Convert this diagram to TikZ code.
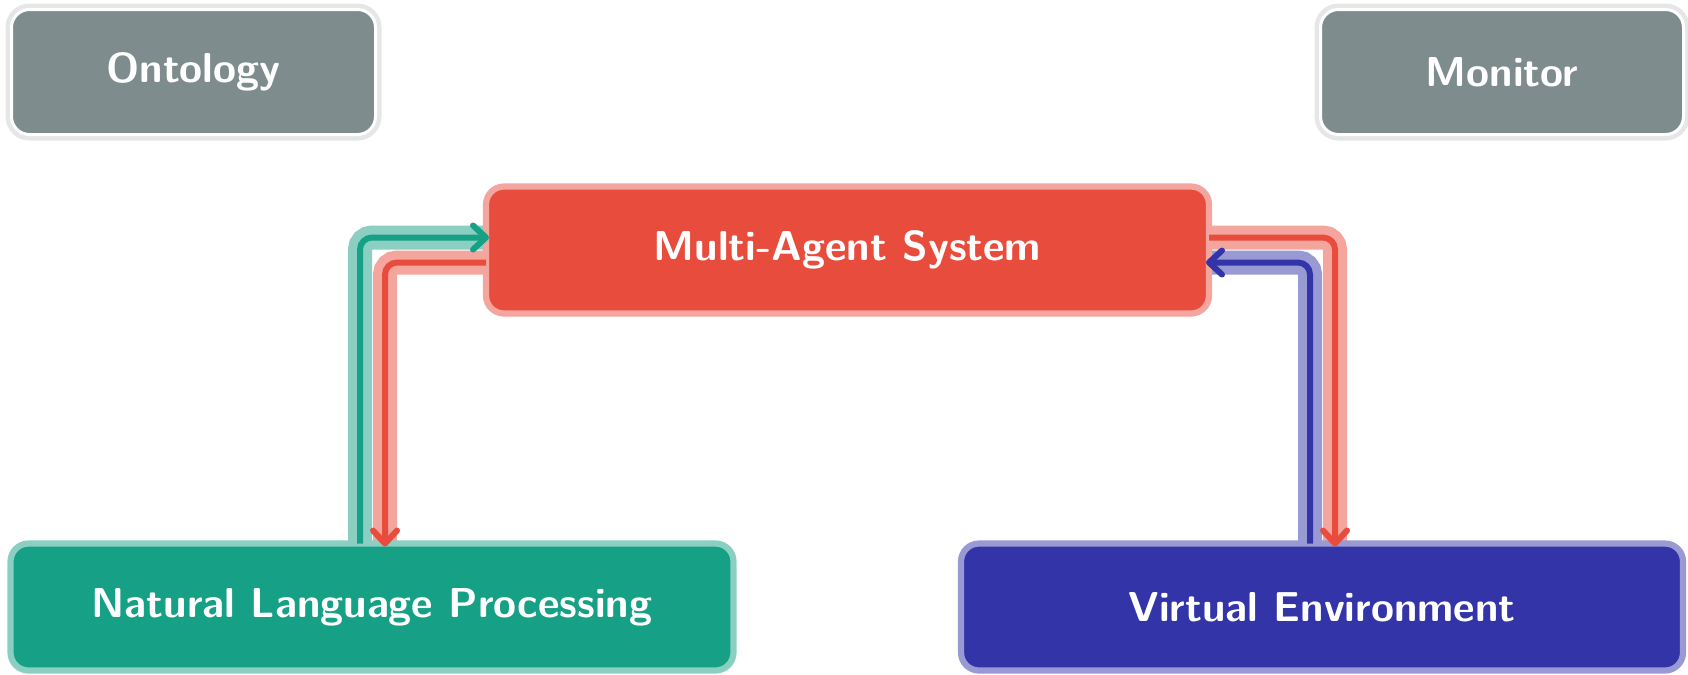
\documentclass[tikz,border=0pt]{standalone}
\usetikzlibrary{arrows.meta,calc}
\definecolor{redfill}{HTML}{E74C3C}
\definecolor{redsoft}{HTML}{F3A59E}
\definecolor{greenfill}{HTML}{16A085}
\definecolor{greensoft}{HTML}{8BCFC2}
\definecolor{bluefill}{HTML}{3434A9}
\definecolor{bluesoft}{HTML}{9999D4}
\definecolor{grayfill}{HTML}{7F8C8D}
\definecolor{grayring}{HTML}{E5E7E7}
\pgfdeclarelayer{bg}
\pgfsetlayers{bg,main}
\tikzset{
  label font/.style={font=\sffamily\bfseries\fontsize{11.9}{14}\selectfont, text=white},
  box/.style={rectangle, rounded corners=1.8mm, inner sep=0pt, outer sep=0pt,
    minimum height=12.7mm, label font},
  colorbox/.style={box, fill=#1fill, draw=#1soft, line width=0.62mm},
  graybox/.style={box, minimum height=12.5mm, fill=grayfill, draw=white, line width=0.3mm,
    preaction={draw=grayring, line width=1.2mm}},
  halo/.style={draw=#1soft, line width=2.4mm, rounded corners=1.2mm},
  flow/.style={draw=#1fill, line width=0.6mm, rounded corners=1.2mm,
    -{Straight Barb[length=1.3mm,width=2.4mm,round]}, shorten >=-0.3mm},
}
\begin{document}
\begin{tikzpicture}[x=0.1mm, y=-0.1mm]
\useasboundingbox (0,0) rectangle (1688,674);

% boxes
\node[graybox, minimum width=36.4mm] (onto) at (193.5,72) {Ontology};
\node[graybox, minimum width=36.3mm] (mon) at (1502,72) {Monitor};
\node[colorbox=red, minimum width=72.3mm] (mas) at (847.5,250) {Multi-Agent System};
\node[colorbox=green, minimum width=72.3mm] (nlp) at (372,607) {Natural Language Processing};
\node[colorbox=blue, minimum width=72.2mm] (ve) at (1322,607) {Virtual Environment};

% lanes of the vertical connector legs
\coordinate (gL) at (360,0);
\coordinate (rL) at (385,0);
\coordinate (bR) at (1310,0);
\coordinate (rR) at (1335,0);

% soft halos under the connectors
\begin{pgfonlayer}{bg}
  \draw[halo=green] (nlp.north -| gL) |- ([yshift=1.25mm]mas.west);
  \draw[halo=red] ([yshift=-1.25mm]mas.west) -| (nlp.north -| rL);
  \draw[halo=red] ([yshift=1.25mm]mas.east) -| (ve.north -| rR);
  \draw[halo=blue] (ve.north -| bR) |- ([yshift=-1.25mm]mas.east);
\end{pgfonlayer}

% connectors
\draw[flow=green] (nlp.north -| gL) |- ([yshift=1.25mm]mas.west);
\draw[flow=red] ([yshift=-1.25mm]mas.west) -| (nlp.north -| rL);
\draw[flow=red] ([yshift=1.25mm]mas.east) -| (ve.north -| rR);
\draw[flow=blue] (ve.north -| bR) |- ([yshift=-1.25mm]mas.east);
\end{tikzpicture}
\end{document}
